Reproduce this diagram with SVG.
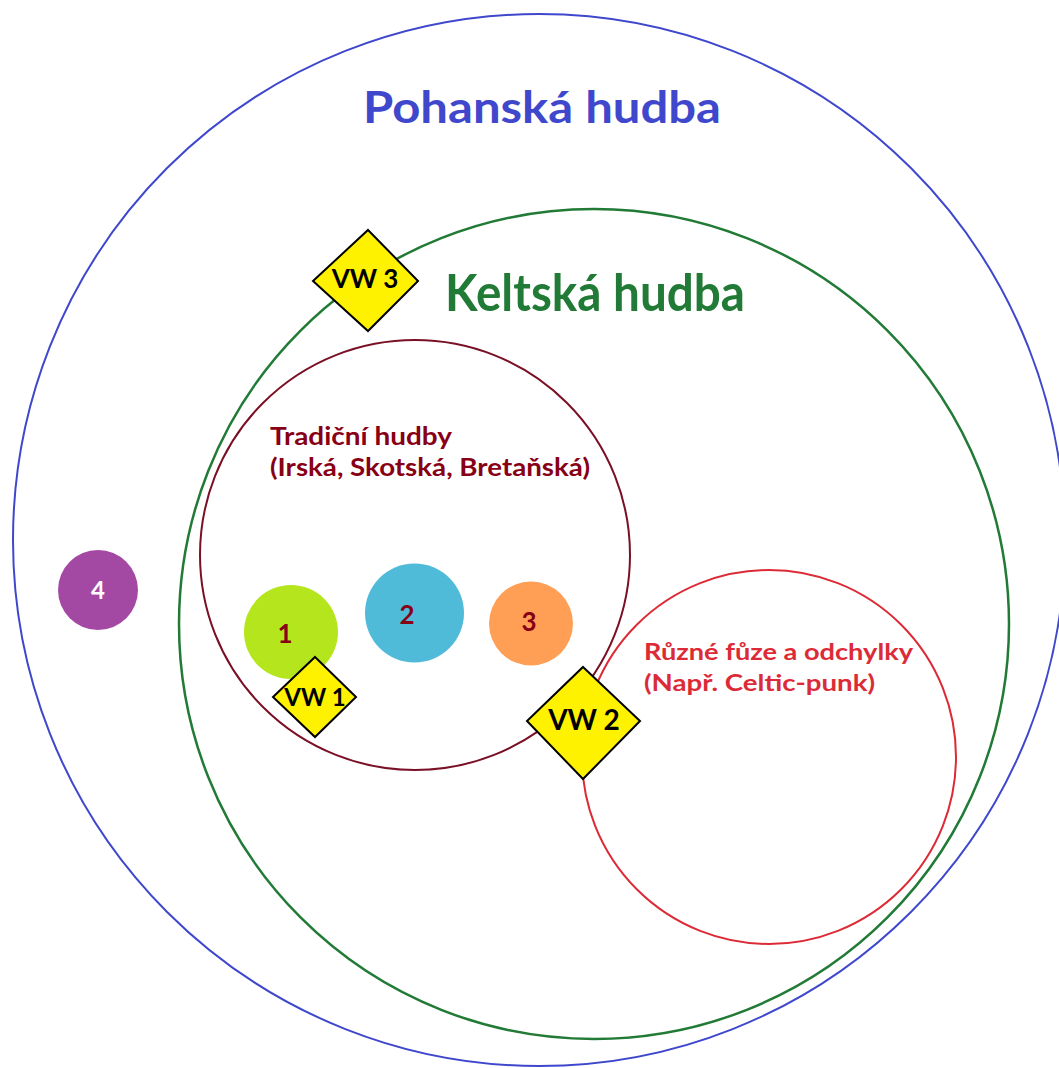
<svg xmlns="http://www.w3.org/2000/svg" width="1059" height="1068" viewBox="0 0 1059 1068">
<style>
text{font-family:Lato,"Open Sans","Liberation Sans",sans-serif;font-weight:bold}
.ring{fill:none}
.dia{fill:#FFF200;stroke:#000;stroke-width:2}
.vw{fill:#000;text-anchor:middle}
.num{fill:#880015;text-anchor:middle;font-size:26px}
</style>
<rect width="1059" height="1068" fill="#fff"/>
<g id="pohanska">
<circle class="ring" cx="539" cy="540" r="526" stroke="#3F48CC" stroke-width="2"/>
<text x="363" y="123" font-size="44" fill="#3F48CC" textLength="358" lengthAdjust="spacingAndGlyphs">Pohanská hudba</text>
</g>
<g id="keltska">
<circle class="ring" cx="594" cy="624" r="415" stroke="#217A35" stroke-width="2.5"/>
<text x="445" y="311" font-size="51" fill="#217A35" textLength="300" lengthAdjust="spacingAndGlyphs">Keltská hudba</text>
</g>
<g id="tradicni">
<circle class="ring" cx="415" cy="555" r="215" stroke="#7A1025" stroke-width="2"/>
<text x="270" y="445" font-size="25" fill="#880015" textLength="182" lengthAdjust="spacingAndGlyphs">Tradiční hudby</text>
<text x="270" y="476" font-size="25" fill="#880015" textLength="320" lengthAdjust="spacingAndGlyphs">(Irská, Skotská, Bretaňská)</text>
</g>
<g id="fuze">
<circle class="ring" cx="769" cy="757" r="187" stroke="#DC2B36" stroke-width="2"/>
<text x="644" y="660" font-size="23" fill="#DC2B36" textLength="269" lengthAdjust="spacingAndGlyphs">Různé fůze a odchylky</text>
<text x="644" y="691" font-size="23" fill="#DC2B36" textLength="231" lengthAdjust="spacingAndGlyphs">(Např. Celtic-punk)</text>
</g>
<g id="n4">
<circle cx="98" cy="590" r="40" fill="#A349A4"/>
<text x="98" y="599" font-size="24" fill="#fff" text-anchor="middle">4</text>
</g>
<g id="n1">
<circle cx="291" cy="632" r="47" fill="#B5E61D"/>
<text class="num" x="285" y="643">1</text>
</g>
<g id="n2">
<circle cx="414.5" cy="613" r="49.5" fill="#50BBD8"/>
<text class="num" x="407" y="624">2</text>
</g>
<g id="n3">
<circle cx="531" cy="623.5" r="42" fill="#FF9F55"/>
<text class="num" x="529" y="631">3</text>
</g>
<g id="vw1">
<polygon class="dia" points="315,657 356,697 315,737 273,697"/>
<text class="vw" x="315" y="706" font-size="24">VW 1</text>
</g>
<g id="vw2">
<polygon class="dia" points="583,667 640,721 583,779 527,721"/>
<text class="vw" x="584" y="730" font-size="28">VW 2</text>
</g>
<g id="vw3">
<polygon class="dia" points="368,230 418,281 368,331 313,281"/>
<text class="vw" x="365" y="288" font-size="26">VW 3</text>
</g>
</svg>
